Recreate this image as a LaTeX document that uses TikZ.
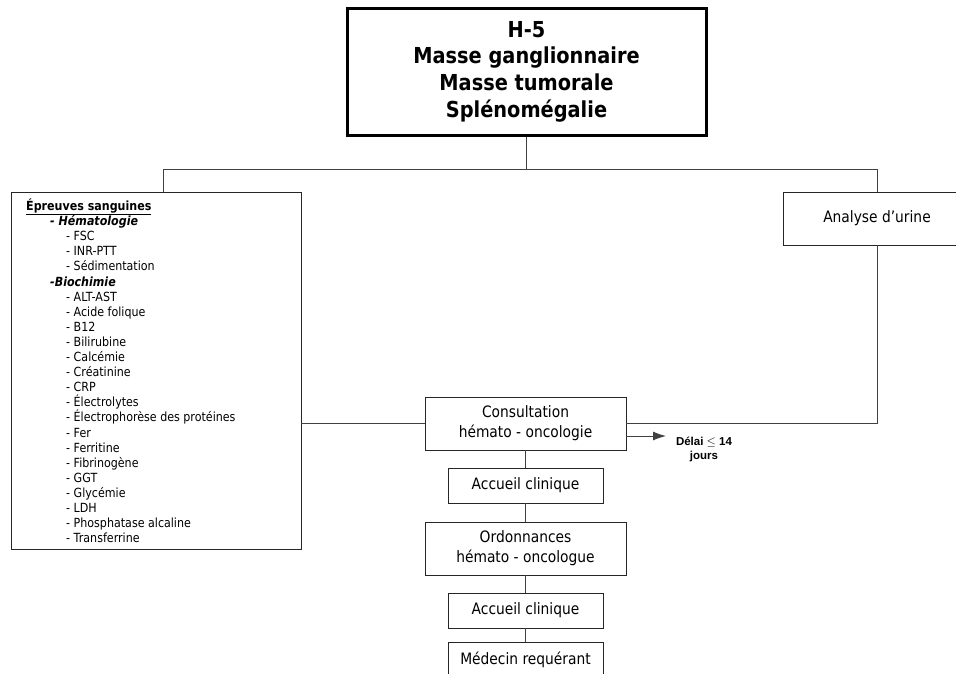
\documentclass[tikz,border=0pt]{standalone}
\usepackage{fontspec}
\setmainfont{DejaVu Sans}[FakeStretch=0.88]
\newfontfamily\arialfont{Liberation Sans}
\usetikzlibrary{arrows.meta}
\begin{document}
\begin{tikzpicture}[x=1pt,y=-1pt,
 box/.style={draw=black!85, line width=0.9pt, rectangle, inner sep=0pt, align=center, font=\fontsize{15.7}{20}\selectfont},
 conn/.style={draw=black!75, line width=0.9pt},
 lst/.style={anchor=base west, inner sep=0pt, font=\fontsize{12.6}{14}\selectfont}]
\useasboundingbox (0,0) rectangle (956,673);
\clip (0,0) rectangle (956,673);

% title
\node[box, draw=black, line width=3pt, minimum width=359pt, minimum height=127pt,
      font=\bfseries\fontsize{22}{26.7}\selectfont] (top) at (526.5,71.5)
      {H-5\\Masse ganglionnaire\\Masse tumorale\\Splénomégalie};

% left list box
\node[box, minimum width=290pt, minimum height=357pt] (blood) at (156,370.5) {};
\foreach \t/\xx [count=\i from 0] in {
  {\underline{\textbf{Épreuves sanguines}}}/26,
  {\textbf{\textit{- Hématologie}}}/50,
  {- FSC}/66,
  {- INR-PTT}/66,
  {- Sédimentation}/66,
  {\textbf{\textit{-Biochimie}}}/50,
  {- ALT-AST}/66,
  {- Acide folique}/66,
  {- B12}/66,
  {- Bilirubine}/66,
  {- Calcémie}/66,
  {- Créatinine}/66,
  {- CRP}/66,
  {- Électrolytes}/66,
  {- Électrophorèse des protéines}/66,
  {- Fer}/66,
  {- Ferritine}/66,
  {- Fibrinogène}/66,
  {- GGT}/66,
  {- Glycémie}/66,
  {- LDH}/66,
  {- Phosphatase alcaline}/66,
  {- Transferrine}/66}
  \node[lst] (l\i) at (\xx, 210.5+15.1*\i) {\t};

% right box
\node[box, minimum width=188pt, minimum height=53pt] (urine) at (877,218.5) {Analyse d’urine};

% central chain
\node[box, minimum width=201pt, minimum height=53pt] (consult) at (525.5,423.5) {Consultation\\hémato - oncologie};
\node[box, minimum width=155pt, minimum height=35pt] (acc1) at (525.5,485.5) {Accueil clinique};
\node[box, minimum width=201pt, minimum height=53pt] (ord) at (525.5,548.5) {Ordonnances\\hémato - oncologue};
\node[box, minimum width=155pt, minimum height=35pt] (acc2) at (525.5,610.5) {Accueil clinique};
\node[box, minimum width=155pt, minimum height=35pt] (med) at (525.5,659.5) {Médecin requérant};

% delay label
\node[inner sep=0pt, align=center, font=\arialfont\bfseries\fontsize{11.5}{14}\selectfont] (delai) at (704,449) {Délai $\leq$ 14\\jours};

% connectors
\coordinate (jc) at (526.5,169);
\coordinate (jl) at (163,169);
\coordinate (jr) at (877,169);
\coordinate (arrowend) at (666,436);
\draw[conn] (top.south) -- (jc);
\draw[conn] (jl) -- (jr);
\draw[conn] (jl) -- (jl |- blood.north);
\draw[conn] (jr) -- (urine.north);
\draw[conn] (urine.south) -- (urine.south |- consult.east) -- (consult.east);
\draw[conn] (consult.west) -- (consult.west -| blood.east);
\draw[conn, -{Latex[length=13pt,width=9pt]}] (consult.east |- arrowend) -- (arrowend);
\draw[conn] (consult.south) -- (acc1.north);
\draw[conn] (acc1.south) -- (ord.north);
\draw[conn] (ord.south) -- (acc2.north);
\draw[conn] (acc2.south) -- (med.north);
\end{tikzpicture}
\end{document}
